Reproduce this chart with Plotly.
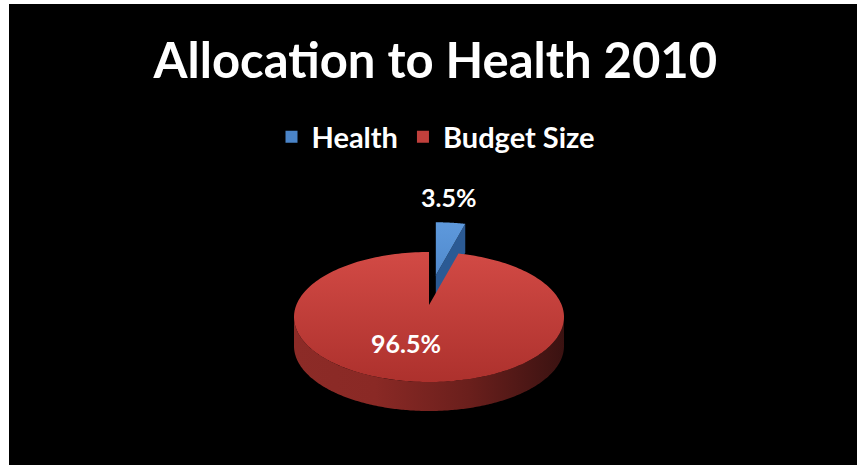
import numpy as np
import plotly.graph_objects as go

# ---- data -------------------------------------------------------------
labels = ["Health", "Budget Size"]
values = [3.5, 96.5]
title_text = "Allocation to Health 2010"

# ---- styling ----------------------------------------------------------
# (far colour, near colour) of each top face; vertical gradient, far edge lighter
top_colors = {"Health": ("#5e99dc", "#3c74b8"), "Budget Size": ("#d24a45", "#ad312d")}
legend_colors = {"Health": "#4a84c8", "Budget Size": "#c0403c"}
side_colors = {"Health": "#2b5a94",
               "Budget Size": [[0, "#8c2b27"], [0.3, "#8a2925"], [0.65, "#6a1f1c"], [1, "#3a1211"]]}
FONT = "Lato"

# geometry of the tilted disc, in axis units (1 unit = 1 px)
CX, CY = 429, 317
RX, RY = 135, 65
DEPTH = 29
HUB_LIFT = 12        # hub drawn a little behind the ellipse centre (perspective)
EXPLODE = {"Health": 0.46, "Budget Size": 0.0}

fractions = np.array(values, dtype=float) / sum(values)
bounds = np.concatenate([[0.0], np.cumsum(fractions)]) * 2 * np.pi


def rim(t0, t1, ox=0.0, oy=0.0, dy=0.0, n=240):
    t = np.linspace(t0, t1, n)
    return CX + ox + RX * np.sin(t), CY + oy - RY * np.cos(t) + dy


fig = go.Figure()
side_traces, top_traces, slice_info = [], [], []

for i, name in enumerate(labels):
    t0, t1 = bounds[i], bounds[i + 1]
    tm = 0.5 * (t0 + t1)
    e = EXPLODE[name]
    ox, oy = e * RX * np.sin(tm), -e * RY * np.cos(tm)
    hx, hy = CX + ox, CY - HUB_LIFT + oy
    slice_info.append((name, t0, t1, tm, ox, oy))

    # visible front wall of the rim (angles between 90 and 270 degrees)
    a, b = max(t0, np.pi / 2), min(t1, 3 * np.pi / 2)
    if a < b:
        xt, yt = rim(a, b, ox, oy)
        xb, yb = rim(a, b, ox, oy, dy=DEPTH)
        sc = side_colors[name]
        side_traces.append(go.Scatter(
            x=np.concatenate([xt, xb[::-1]]), y=np.concatenate([yt, yb[::-1]]),
            mode="none", fill="toself",
            fillgradient=dict(type="horizontal", colorscale=sc) if isinstance(sc, list) else None,
            fillcolor=None if isinstance(sc, list) else sc,
            showlegend=False, hoverinfo="skip"))
    # cut face on the trailing edge of a small exploded slice
    if e > 0:
        ex, ey = rim(t1, t1, ox, oy, n=1)
        side_traces.append(go.Scatter(
            x=[hx, ex[0], ex[0], hx], y=[hy, ey[0], ey[0] + DEPTH, hy + DEPTH],
            mode="none", fill="toself", fillcolor=side_colors[name],
            showlegend=False, hoverinfo="skip"))

    # top face
    xa, ya = rim(t0, t1, ox, oy)
    c_far, c_near = top_colors[name]
    top_traces.append(go.Scatter(
        x=np.concatenate([[hx], xa, [hx]]), y=np.concatenate([[hy], ya, [hy]]),
        mode="none", fill="toself", name=name, showlegend=False,
        fillgradient=dict(type="vertical", colorscale=[[0, c_far], [1, c_near]],
                          start=CY + oy - RY, stop=CY + oy + RY),
        hoverinfo="skip"))

for tr in side_traces:
    fig.add_trace(tr)
for tr in top_traces:
    fig.add_trace(tr)

# legend keys (square swatches)
for name in labels:
    fig.add_trace(go.Scatter(
        x=[None], y=[None], mode="markers", name=name,
        marker=dict(symbol="square", size=13, color=legend_colors[name],
                    line=dict(width=0))))

# value labels
for name, t0, t1, tm, ox, oy in slice_info:
    v = values[labels.index(name)]
    if EXPLODE[name] > 0:
        lx = CX + ox + 1.25 * RX * np.sin(tm) - 6
        ly = CY + oy - 1.45 * RY * np.cos(tm) + 3
    else:
        lx = CX + 0.55 * RX * np.sin(tm) - 15
        ly = CY - 0.45 * RY * np.cos(tm) - 3
    fig.add_annotation(x=lx, y=ly, text=f"{v:g}%", showarrow=False,
                       font=dict(family=FONT, size=25, color="white", weight="bold"))

W, H = 857, 465
fig.update_layout(
    width=W, height=H,
    margin=dict(l=0, r=0, t=0, b=0),
    paper_bgcolor="white", plot_bgcolor="black",
    title=dict(text=title_text, x=0.508, xanchor="center", y=1 - 61 / H, yanchor="middle",
               font=dict(family=FONT, size=49, color="white", weight="bold")),
    legend=dict(orientation="h", x=436 / W, xanchor="center", y=1 - 137 / H, yanchor="middle",
                font=dict(family=FONT, size=29, color="white", weight="bold"),
                bgcolor="rgba(0,0,0,0)", itemwidth=30, traceorder="normal",
                itemsizing="constant"),
    xaxis=dict(range=[9, W], domain=[9 / W, 1], visible=False, fixedrange=True),
    yaxis=dict(range=[H, 4], domain=[0, 1 - 4 / H], visible=False, fixedrange=True),
    hovermode=False,
)

fig.write_html("out.html")
